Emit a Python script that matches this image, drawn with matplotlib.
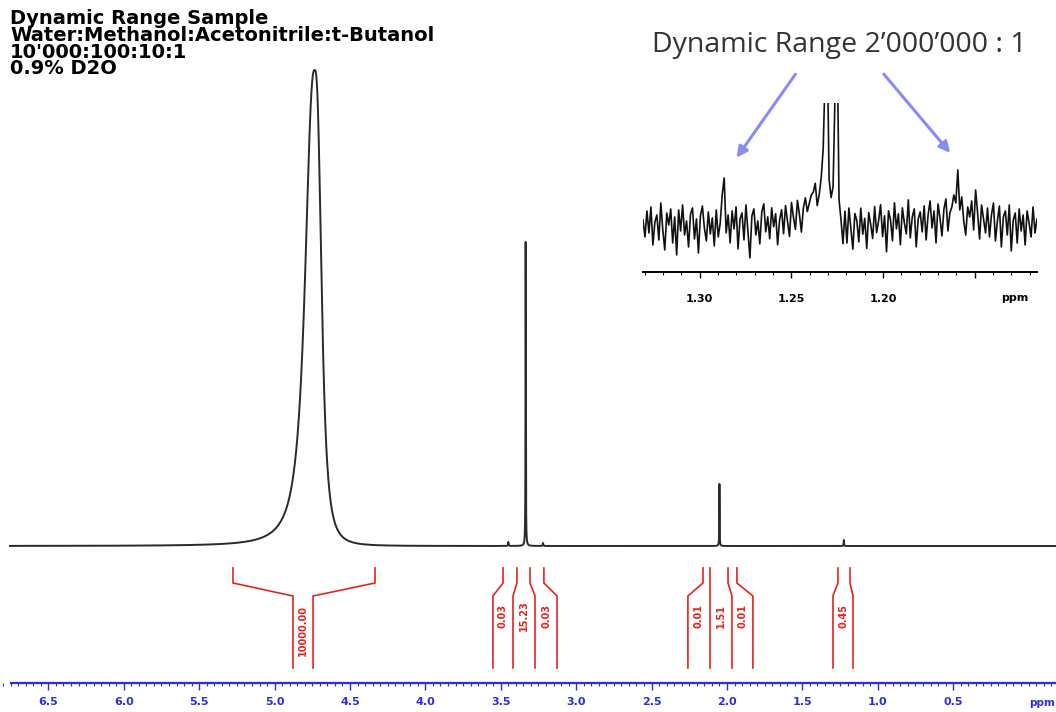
import numpy as np
import matplotlib
matplotlib.use("Agg")
import matplotlib.pyplot as plt
from matplotlib.ticker import MultipleLocator, FixedLocator

# ---------------- data ----------------
header_lines = ["Dynamic Range Sample",
                "Water:Methanol:Acetonitrile:t-Butanol",
                "10'000:100:10:1",
                "0.9% D2O"]
annot_text = "Dynamic Range 2\u2019000\u2019000 : 1"

# water peak (asymmetric generalized Lorentzian): centre, height, hwhm, exponent per side
water = dict(center=4.735, height=476, hw_left=0.070, hw_right=0.050,
             p_left=2.5, p_right=3.0)
# sharp lines: position (ppm), height, hwhm (ppm)
line_pos = [3.335, 3.45, 3.22, 2.05, 1.225]
line_hgt = [304, 4, 3, 62, 6]
line_hw = [0.0012, 0.002, 0.002, 0.0012, 0.0015]

# integrals: top boundaries (ppm), bottom boundaries (ppm), labels
integ_top = [[5.276, 4.334],
             [3.485, 3.393, 3.306, 3.214],
             [2.159, 2.113, 1.993, 1.934],
             [1.264, 1.184]]
integ_bot = [[4.878, 4.745],
             [3.552, 3.419, 3.273, 3.127],
             [2.259, 2.113, 1.967, 1.828],
             [1.297, 1.164]]
integ_lab = [["10000.00"],
             ["0.03", "15.23", "0.03"],
             ["0.01", "1.51", "0.01"],
             ["0.45"]]

main_ticks = [6.5, 6.0, 5.5, 5.0, 4.5, 4.0, 3.5, 3.0, 2.5, 2.0, 1.5, 1.0, 0.5]
main_ticklabels = ["6.5", "6.0", "5.5", "5.0", "4.5", "4.0", "3.5", "3.0",
                   "2.5", "2.0", "1.5", "1.0", "0.5"]

# inset (zoom 1.33-1.12 ppm)
inset_ticks = [1.30, 1.25, 1.20, 1.15]
inset_ticklabels = ["1.30", "1.25", "1.20", ""]
inset_peak_pos = [1.231, 1.2255]
inset_peak_hgt = [300, 300]
inset_peak_hw = [0.0006, 0.0006]
inset_noise = [
    5, -12, 14, -8, 18, -20, 3, 10, -15, 22, -5, -25, 12, 0, 16, -18, 8, -30, 15, -6,
    20, -10, 4, -22, 11, 17, -14, 6, -28, 9, 19, -3, -16, 13, -9, 7, -21, 15, -12, 2,
    30, 47, -8, 10, -18, 14, -4, 18, -24, 6, 12, -15, 20, -6, -33, 9, 16, -10, 4, -19,
    13, 21, -7, 8, -14, 17, -2, 11, -20, 5, 15, -9, 19, 3, -12, 22, 7, -5, 24, 10,
    -8, 16, 26, 12, 20, 28, 30, 38, 14, 22, 32, 40, 0, 0, 0, 0, 0, 0, -15, -20,
    -12, -28, 8, -22, 14, -6, -26, 10, 3, -18, 16, -10, 6, -24, 12, 0, -14, 18, -8, 4,
    20, -12, 9, -27, 14, 5, -16, 22, -4, 11, -20, 17, 2, -9, 25, -13, 8, 16, -22, 6,
    13, -7, 19, -15, 10, 24, -3, 14, -18, 21, 7, -11, 16, 26, -6, 12, 18, 30, 22, 55,
    15, 28, 4, -10, 18, 8, 24, -5, 35, 12, -14, 20, 6, -8, 17, -12, 10, 22, -16, 4,
    19, -22, 8, 14, -10, 20, -26, 5, 12, -18, 16, -6, 10, -20, 14, 2, -12, 18, -8, 6,
]

# ---------------- figure ----------------
W, H = 1056, 712
fig = plt.figure(figsize=(W / 100, H / 100), dpi=100)
fig.patch.set_facecolor("white")

# main axes: x in ppm, y in pixel-height units with baseline at 0
ax = fig.add_axes([0, 0, 1, 1])
ppm_left, ppm_right = 6.821, -0.182
ax.set_xlim(ppm_left, ppm_right)
ax.set_ylim(-166, 546)

x = np.arange(6.755, -0.182, -0.0005)


def glor(xx, c, h, hw, p):
    return h / (1 + np.abs((xx - c) / hw) ** p)


def lor(xx, c, h, hw):
    return h / (1 + ((xx - c) / hw) ** 2)


left = x > water["center"]
y = np.where(left,
             glor(x, water["center"], water["height"], water["hw_left"], water["p_left"]),
             glor(x, water["center"], water["height"], water["hw_right"], water["p_right"]))
for p, hh, w in zip(line_pos, line_hgt, line_hw):
    y = y + lor(x, p, hh, w)
ax.plot(x, y, color="#2a2a2a", lw=1.4)

# integrals
red = "#e8231e"
y_top0, y_top1, y_diag, y_bot = -22, -37, -50, -122
for tops, bots, labs in zip(integ_top, integ_bot, integ_lab):
    for t, b in zip(tops, bots):
        ax.plot([t, t, b, b], [y_top0, y_top1, y_diag, y_bot], color=red, lw=1.2,
                solid_joinstyle="miter")
    for i, lab in enumerate(labs):
        xc = 0.5 * (bots[i] + bots[i + 1])
        big = len(lab) > 6
        ax.text(xc, -85 if big else -70, lab, rotation=90, color=red,
                fontsize=7, fontweight="bold", ha="center", va="center")

# ppm axis (blue)
blue = "#2d2de0"
for s in ["top", "left", "right"]:
    ax.spines[s].set_visible(False)
ax.spines["bottom"].set_position(("data", -137))
ax.spines["bottom"].set_bounds(6.75, ppm_right)
ax.spines["bottom"].set_color(blue)
ax.spines["bottom"].set_linewidth(1.6)
ax.yaxis.set_visible(False)
ax.xaxis.set_major_locator(FixedLocator(main_ticks))
ax.set_xticklabels(main_ticklabels)
ax.xaxis.set_minor_locator(MultipleLocator(0.05))
ax.tick_params(axis="x", which="major", direction="out", length=5, width=1,
               color=blue, labelcolor=blue, labelsize=8, pad=5)
ax.tick_params(axis="x", which="minor", direction="out", length=2, width=0.8,
               color=blue)
for lab in ax.get_xticklabels():
    lab.set_fontweight("bold")
ax.text(-0.09, -157, "ppm", color=blue, fontsize=7.5, fontweight="bold",
        ha="center", va="center")

# header text (one block)
fig.text(10 / W, 1 - 9 / H, "\n".join(header_lines), fontsize=14,
         fontweight="heavy", family="DejaVu Sans", color="black",
         ha="left", va="top", linespacing=0.85)

# annotation text and arrows
fig.text(839 / W, 1 - 45 / H, annot_text, fontsize=20.5, family="Open Sans",
         color="#333333", ha="center", va="center")
arrow_kw = dict(arrowstyle="-|>", color="#8a8cf4", lw=2.2, mutation_scale=16)
fig.add_artist(matplotlib.patches.FancyArrowPatch(
    (797, H - 72), (735, H - 160), transform=None, **arrow_kw))
fig.add_artist(matplotlib.patches.FancyArrowPatch(
    (882, H - 72), (952, H - 155), transform=None, **arrow_kw))

# inset
ia = fig.add_axes([643 / W, (H - 272) / H, (1037 - 643) / W, (272 - 103) / H])
ia.set_facecolor("none")
ix = np.linspace(1.331, 1.116, len(inset_noise))
iy = np.array(inset_noise, dtype=float)
for p, hh, w in zip(inset_peak_pos, inset_peak_hgt, inset_peak_hw):
    iy = iy + lor(ix, p, hh, w)
ia.plot(ix, iy, color="#111111", lw=1.2)
ia.set_xlim(1.331, 1.116)
ia.set_ylim(-47, 122)
for s in ["top", "left", "right"]:
    ia.spines[s].set_visible(False)
ia.spines["bottom"].set_linewidth(1.4)
ia.yaxis.set_visible(False)
ia.xaxis.set_major_locator(FixedLocator(inset_ticks))
ia.set_xticklabels(inset_ticklabels)
ia.xaxis.set_minor_locator(MultipleLocator(0.01))
ia.tick_params(axis="x", which="major", direction="out", length=4, width=1,
               labelsize=8, pad=12)
ia.tick_params(axis="x", which="minor", direction="out", length=2, width=0.8)
for lab in ia.get_xticklabels():
    lab.set_fontweight("bold")
fig.text(1015 / W, 1 - 298 / H, "ppm", fontsize=8, fontweight="bold",
         ha="center", va="center")

fig.savefig("out.png", dpi=100, facecolor="white")
